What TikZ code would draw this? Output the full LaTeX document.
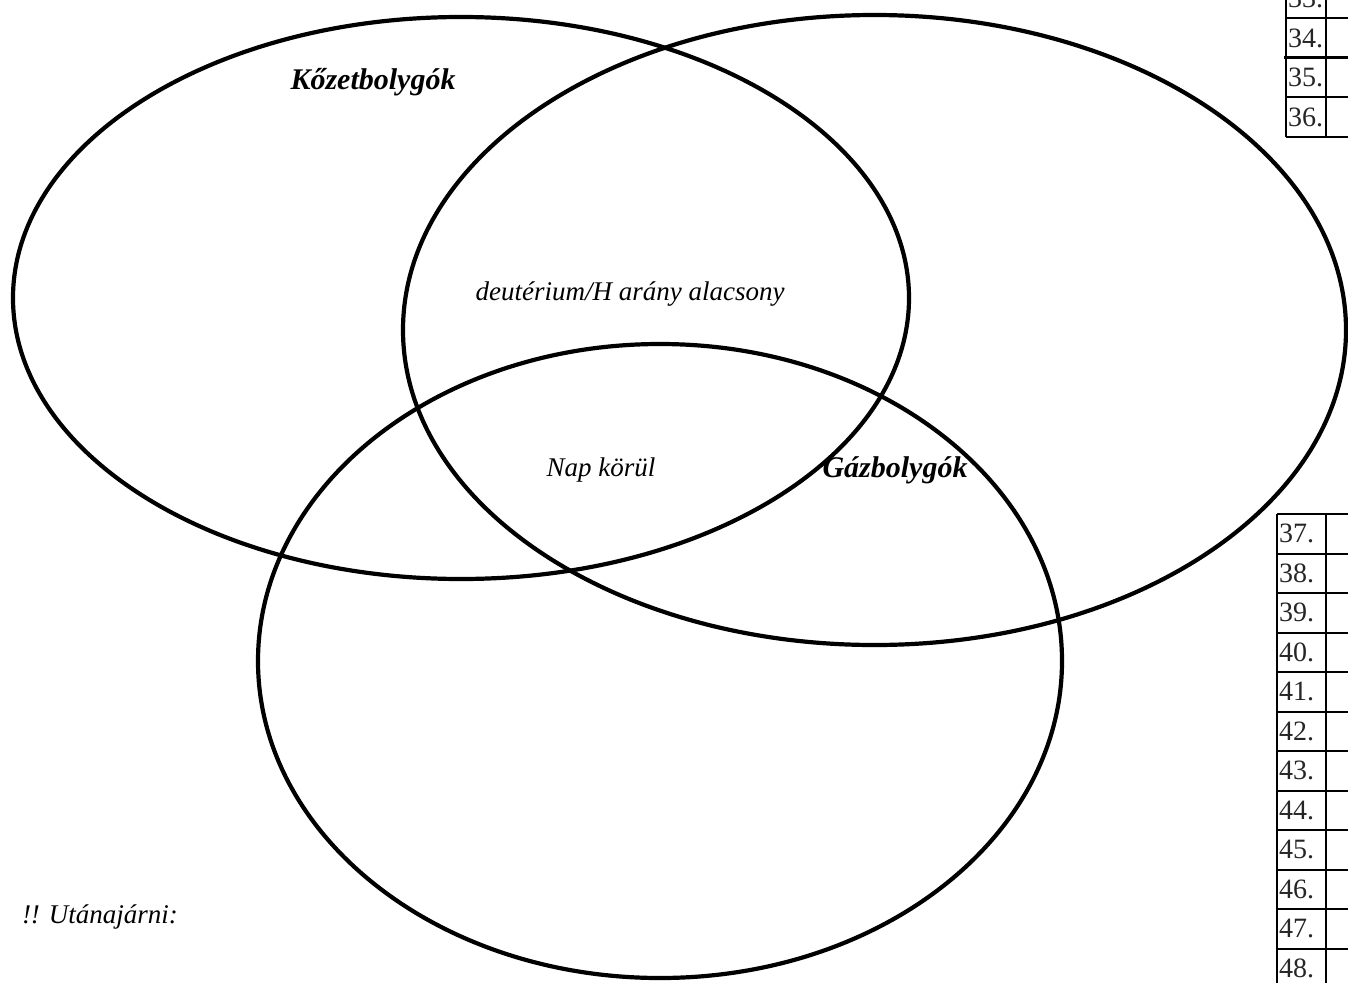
\documentclass[tikz,border=0pt]{standalone}
\usepackage{fontspec}
\setmainfont{Liberation Serif}
\usetikzlibrary{positioning}

\begin{document}
\begin{tikzpicture}[x=1pt,y=-1pt,
  venn/.style={line width=4.2pt},
  grid/.style={line width=2pt},
  lbl/.style={font=\fontsize{27}{30}\selectfont\itshape},
  head/.style={font=\fontsize{30}{33}\selectfont\bfseries\itshape},
  num/.style={font=\fontsize{28}{30}\selectfont, text=black!85, anchor=west, inner sep=0pt}]
  \useasboundingbox (0,0) rectangle (1348,982);
  \clip (0,0) rectangle (1348,982);
  % the three sets
  \draw[venn] (461,298) ellipse [x radius=448, y radius=281];
  \draw[venn] (874.5,330) ellipse [x radius=471.5, y radius=315];
  \draw[venn] (660,661) ellipse [x radius=402, y radius=317];
  % labels
  \node[head] (rock) at (373,82) {Kőzetbolygók};
  \node[head] (gas) at (895,470) {Gázbolygók};
  \node[lbl] (ratio) at (630,294) {deutérium/H arány alacsony};
  \node[lbl] (sun) at (601,470) {Nap körül};
  \node[lbl] (todo) at (100,917) {!! Utánajárni:};
  % upper table
  \draw[grid] (1286,-5) -- (1286,136.5);
  \draw[grid] (1326,-5) -- (1326,136.5);
  \foreach \y in {18,97,136.5}
    \draw[grid] (1286,\y) -- (1360,\y);
  \draw[line width=3.8pt] (1284,57.5) -- (1360,57.5);
  \foreach \k/\y in {33/-1.5,34/38,35/77,36/117}
    \node[num] (n\k) at (1288,\y) {\k.};
  % lower table
  \draw[grid] (1277,514) -- (1277,990);
  \draw[grid] (1326,514) -- (1326,990);
  \foreach \i in {0,...,11}
    \draw[grid] (1277,514+39.5*\i) -- (1360,514+39.5*\i);
  \foreach \i [evaluate=\i as \k using int(37+\i)] in {0,...,11}
    \node[num] (n\k) at (1279,533.75+39.5*\i) {\k.};
\end{tikzpicture}
\end{document}
